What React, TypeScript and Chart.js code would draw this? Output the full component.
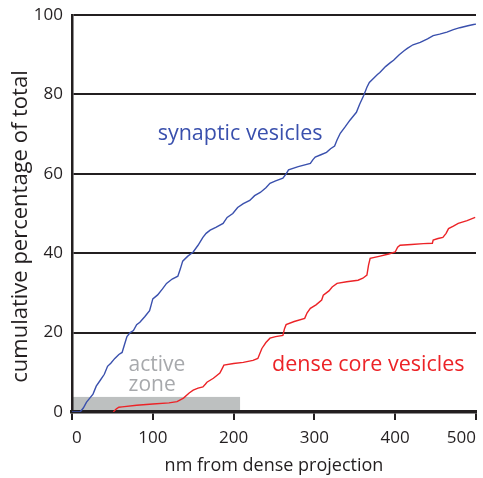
import React, { useEffect, useRef } from "react";
import { Chart, registerables } from "chart.js";

Chart.register(...registerables);

// Cumulative distribution of vesicle distances from the dense projection
const svDistance = [0, 10, 14, 18, 22, 26, 30, 35, 40, 44, 48, 53, 58, 62, 65, 68, 72, 76, 80, 84, 90, 96, 98, 100, 106, 112, 117, 124, 131, 134, 137, 143, 150, 156, 162, 166, 171, 178, 187, 192, 199, 205, 212, 220, 226, 233, 240, 245, 252, 261, 265, 268, 280, 295, 298, 301, 308, 315, 320, 325, 328, 332, 338, 344, 348, 352, 356, 361, 365, 368, 373, 378, 381, 388, 394, 398, 405, 411, 415, 422, 431, 440, 447, 455, 464, 472, 480, 490, 497, 500];
const svPercent = [0, 0, 1, 2.5, 3.5, 4.5, 6.5, 8, 9.5, 11.5, 12.3, 13.5, 14.5, 15, 17, 19, 20, 20.5, 22, 22.6, 24, 25.5, 27, 28.5, 29.5, 31, 32.4, 33.5, 34.2, 36, 38, 39.2, 40.3, 42, 44, 45, 45.8, 46.5, 47.5, 49, 50, 51.5, 52.5, 53.3, 54.5, 55.3, 56.5, 57.6, 58.2, 58.9, 60, 61, 61.8, 62.6, 63.5, 64.2, 64.8, 65.4, 66.3, 67, 68.5, 70.2, 71.8, 73.5, 74.5, 75.5, 77.5, 79.7, 81.8, 83, 84, 85, 85.5, 87, 88, 88.6, 90, 91, 91.6, 92.5, 93.1, 94, 94.8, 95.2, 95.7, 96.3, 96.8, 97.3, 97.6, 97.7];

const dcvDistance = [51, 55, 58, 62, 80, 100, 120, 130, 138, 145, 150, 156, 162, 165, 167, 175, 183, 186, 188, 200, 212, 224, 230, 235, 240, 245, 252, 261, 263, 265, 275, 288, 291, 295, 302, 309, 311, 318, 322, 328, 340, 354, 360, 365, 367, 369, 380, 392, 400, 403, 406, 420, 435, 446, 447, 453, 459, 463, 466, 472, 478, 489, 499];
const dcvPercent = [0, 0.8, 1.2, 1.3, 1.7, 2, 2.3, 2.6, 3.5, 4.8, 5.5, 6, 6.3, 7, 7.5, 8.5, 9.8, 11, 11.8, 12.2, 12.5, 13, 13.5, 16, 17.5, 18.6, 19, 19.3, 21, 22, 22.8, 23.6, 25, 26.1, 27, 28.2, 29.4, 30.5, 31.5, 32.4, 32.8, 33.2, 33.7, 34.5, 37, 38.7, 39.2, 39.8, 40.3, 41.5, 42, 42.2, 42.4, 42.5, 43.3, 43.7, 44, 45, 46.2, 46.8, 47.5, 48.2, 49];

// Active zone band along the bottom of the plot (nm extent, % height)
const activeZoneEnd = 208;
const activeZoneHeight = 3.8;

const xTicks = [0, 100, 200, 300, 400, 500];
const yTicks = [0, 20, 40, 60, 80, 100];

const yTitle = "cumulative percentage of total";
const xTitle = "nm from dense projection";

const INK = "#231f20";
const BLUE = "#3a50ad";
const RED = "#ec2327";
const ZONE = "#bdc0c0";
const ZONE_TEXT = "#a7a9ac";
const FONT = "'Open Sans', sans-serif";

const activeZonePlugin = {
  id: "activeZone",
  beforeDraw(chart: any) {
    const { ctx, scales } = chart;
    const x0 = scales.x.getPixelForValue(0);
    const x1 = scales.x.getPixelForValue(activeZoneEnd);
    const y0 = scales.y.getPixelForValue(0);
    const y1 = scales.y.getPixelForValue(activeZoneHeight);
    ctx.save();
    ctx.fillStyle = ZONE;
    ctx.fillRect(x0, y1, x1 - x0, y0 - y1);
    ctx.restore();
  },
};

const labelsPlugin = {
  id: "seriesLabels",
  afterDatasetsDraw(chart: any) {
    const { ctx, scales, chartArea } = chart;
    const put = (text: string, x: number, y: number, color: string, size: number) => {
      ctx.fillStyle = color;
      ctx.font = `${size}px ${FONT}`;
      ctx.textAlign = "left";
      ctx.textBaseline = "alphabetic";
      ctx.fillText(text, scales.x.getPixelForValue(x), scales.y.getPixelForValue(y));
    };
    ctx.save();
    put("synaptic vesicles", 106, 68.4, BLUE, 21.5);
    put("active", 70, 10.3, ZONE_TEXT, 21);
    put("zone", 70, 5.2, ZONE_TEXT, 21);
    put("dense core vesicles", 247.5, 10.4, RED, 21.5);

    // vertical axis title, rotated, sitting a little below the plot's centre
    ctx.translate(21, (chartArea.top + chartArea.bottom) / 2 + 13);
    ctx.rotate(-Math.PI / 2);
    ctx.fillStyle = INK;
    ctx.font = `22px ${FONT}`;
    ctx.textAlign = "center";
    ctx.textBaseline = "middle";
    ctx.fillText(yTitle, 0, 0);
    ctx.restore();
  },
};

export default function App() {
  const canvasRef = useRef<HTMLCanvasElement | null>(null);

  useEffect(() => {
    if (!canvasRef.current) return;
    const chart = new Chart(canvasRef.current, {
      type: "line",
      data: {
        datasets: [
          {
            label: "synaptic vesicles",
            data: svDistance.map((x, i) => ({ x, y: svPercent[i] })),
            borderColor: BLUE,
            borderWidth: 1.4,
            pointRadius: 0,
            tension: 0,
          },
          {
            label: "dense core vesicles",
            data: dcvDistance.map((x, i) => ({ x, y: dcvPercent[i] })),
            borderColor: RED,
            borderWidth: 1.4,
            pointRadius: 0,
            tension: 0,
          },
        ],
      },
      options: {
        animation: false,
        responsive: false,
        layout: { padding: { top: 15, right: 7, bottom: 0, left: 0 } },
        plugins: { legend: { display: false }, tooltip: { enabled: false } },
        scales: {
          x: {
            type: "linear",
            min: 0,
            max: 500,
            afterBuildTicks: (scale: any) => {
              scale.ticks = xTicks.map((value) => ({ value }));
            },
            afterFit: (scale: any) => {
              scale.height = 66;
              scale.paddingLeft = 0;
              scale.paddingRight = 0;
            },
            grid: {
              drawOnChartArea: false,
              drawTicks: true,
              tickLength: 8,
              lineWidth: 2,
              color: INK,
            },
            border: { display: true, width: 3.5, color: INK },
            ticks: {
              color: INK,
              font: { family: FONT, size: 17 },
              padding: 8,
              maxRotation: 0,
              align: "inner",
            },
            title: {
              display: true,
              text: xTitle,
              color: INK,
              font: { family: FONT, size: 18 },
              padding: { top: 0, bottom: 1 },
            },
          },
          y: {
            type: "linear",
            min: 0,
            max: 100,
            afterBuildTicks: (scale: any) => {
              scale.ticks = yTicks.map((value) => ({ value }));
            },
            afterFit: (scale: any) => {
              scale.width = 72;
              scale.paddingTop = 0;
              scale.paddingBottom = 0;
            },
            grid: { drawTicks: false, lineWidth: 2, color: INK },
            border: { display: true, width: 2.5, color: INK },
            ticks: { color: INK, font: { family: FONT, size: 17 }, padding: 9 },
          },
        },
      },
      plugins: [activeZonePlugin, labelsPlugin],
    });
    return () => chart.destroy();
  }, []);

  return (
    <div style={{ position: "fixed", left: 0, top: 0, width: 483, height: 478, background: "#fff" }}>
      <canvas ref={canvasRef} width={483} height={478} />
    </div>
  );
}
